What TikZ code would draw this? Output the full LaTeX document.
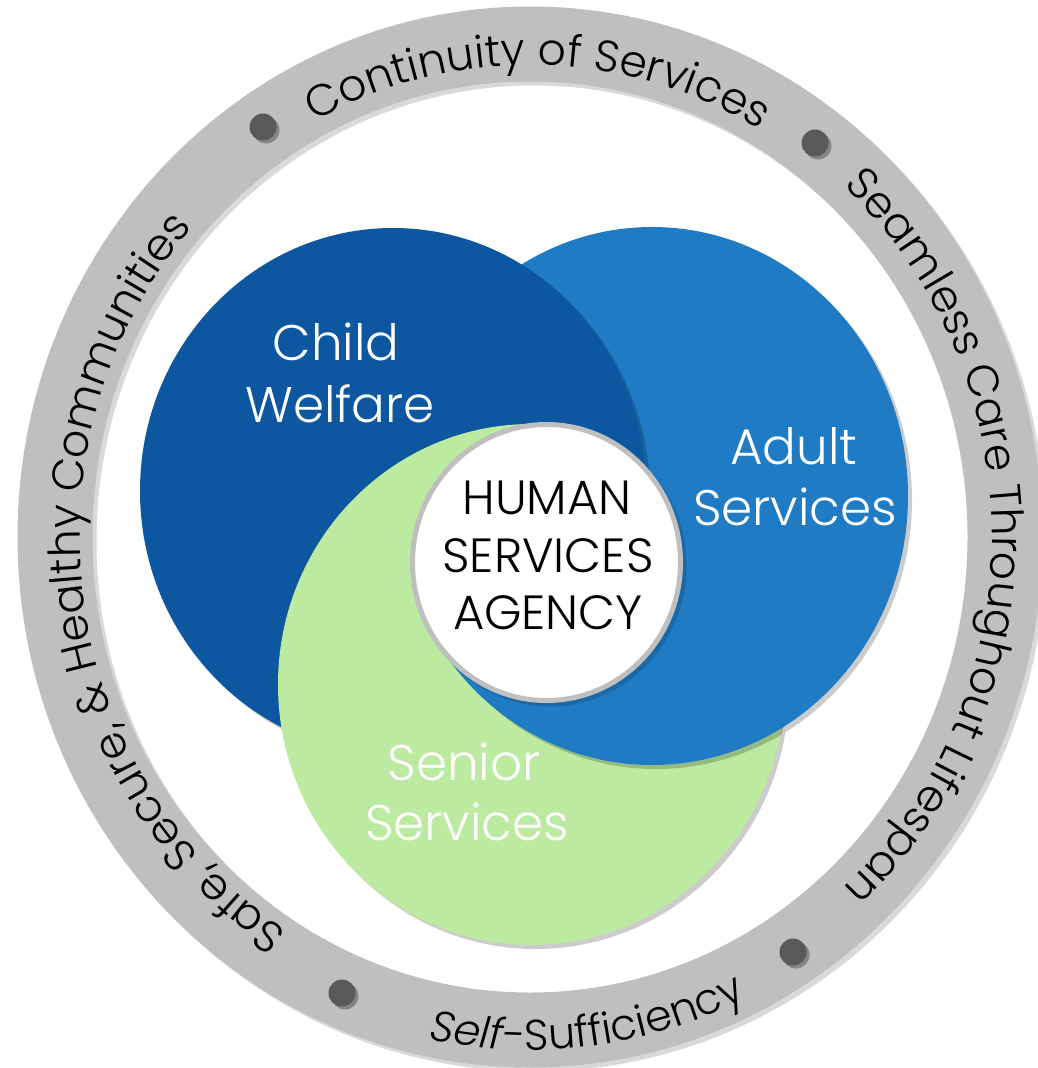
\documentclass[tikz,border=0pt]{standalone}
\usepackage{fontspec}
\setmainfont{Poppins}[UprightFont={* Light},ItalicFont={* Light Italic}]
\usetikzlibrary{decorations.text}
\definecolor{darkblue}{HTML}{0C57A0}
\definecolor{midblue}{HTML}{1F7BC4}
\definecolor{lightgreen}{HTML}{BCEAA0}
\definecolor{ringgray}{HTML}{BFBFBF}
\definecolor{dotgray}{HTML}{595959}
\newcommand{\ringfont}{\fontsize{44}{52}\selectfont}
\newcommand{\ringfontb}{\fontsize{43}{52}\selectfont}
\begin{document}
\begin{tikzpicture}[x=1pt,y=-1pt,
  shadowfill/.style={fill=black,fill opacity=0.2},
  circlelabel/.style={text=white,font=\fontsize{50}{60}\selectfont,anchor=base,inner sep=0pt},
  hsa/.style={text=black,font=\fontsize{48}{58}\selectfont,anchor=base,inner sep=0pt},
  ringtext/.style={decorate,decoration={text along path,text align=center,text={#1}}},
  bullet/.style={circle,fill=dotgray,minimum size=27pt,inner sep=0pt},
  bulletshadow/.style={circle,fill=black,fill opacity=0.3,minimum size=27pt,inner sep=0pt},
]
\useasboundingbox (0,0) rectangle (1038,1068);
% outer ring
\draw[line width=75pt,draw=black,draw opacity=0.15] (534,541) ellipse [x radius=475,y radius=493];
\draw[line width=75pt,draw=ringgray] (530,537) ellipse [x radius=475,y radius=493];
% bullets
\node[bulletshadow] (d1s) at (266,130) {};
\node[bulletshadow] (d2s) at (818,146) {};
\node[bulletshadow] (d3s) at (345,996) {};
\node[bulletshadow] (d4s) at (796,955) {};
\node[bullet] (d1) at (263,127) {};
\node[bullet] (d2) at (815,143) {};
\node[bullet] (d3) at (342,993) {};
\node[bullet] (d4) at (793,952) {};
% ring texts
\path[ringtext={|\ringfont|Continuity of Services},shift={(530,537)}]
  (-130:455 and 472) arc[start angle=-130,end angle=-48,x radius=455,y radius=472];
\path[ringtext={|\ringfont|Seamless Care Throughout Lifespan},shift={(530,537)}]
  (-55:462 and 478) arc[start angle=-55,end angle=55,x radius=462,y radius=478];
\path[ringtext={|\ringfontb\itshape|Self-|\ringfontb\upshape|Sufficiency},shift={(530,537)}]
  (112:493 and 513) arc[start angle=112,end angle=54,x radius=493,y radius=513];
\path[ringtext={|\ringfont|Safe, Secure, {\&} Healthy Communities},shift={(530,537)}]
  (114:450 and 468) arc[start angle=114,end angle=230,x radius=450,y radius=468];
% shadows of the three circles
\fill[shadowfill] (656,500) ellipse[x radius=256,y radius=269]
                  (397,495) ellipse[x radius=253,y radius=263]
                  (535.5,688.5) ellipse[x radius=253.5,y radius=260.5];
% adult
\fill[midblue] (652,496) ellipse[x radius=256,y radius=269];
\begin{scope}
  \clip (652,496) ellipse[x radius=256,y radius=269];
  \fill[shadowfill] (397,495) ellipse[x radius=253,y radius=263];
\end{scope}
% child
\fill[darkblue] (393,491) ellipse[x radius=253,y radius=263];
\begin{scope}
  \clip (393,491) ellipse[x radius=253,y radius=263];
  \fill[shadowfill] (535.5,688.5) ellipse[x radius=253.5,y radius=260.5];
\end{scope}
% senior
\fill[lightgreen] (531.5,684.5) ellipse[x radius=253.5,y radius=260.5];
% adult passes over senior in the lower right
\begin{scope}
  \clip (139,945) -- (945,140) -- (1038,140) -- (1038,1068) -- (139,1068) -- cycle;
  \clip (531.5,684.5) ellipse[x radius=255,y radius=262];
  \fill[shadowfill] (656,500) ellipse[x radius=256,y radius=269];
  \fill[midblue] (652,496) ellipse[x radius=256,y radius=269];
\end{scope}
% child stays on top near the top of the centre disc
\begin{scope}
  \clip (535,380) rectangle (720,520);
  \begin{scope}
    \clip (139,945) -- (945,140) -- (1038,140) -- (1038,1068) -- (139,1068) -- cycle;
    \clip (531.5,684.5) ellipse[x radius=255,y radius=262];
    \fill[shadowfill] (397,495) ellipse[x radius=253,y radius=263];
  \end{scope}
  \fill[darkblue] (393,491) ellipse[x radius=253,y radius=263];
\end{scope}
% centre
\fill[black,fill opacity=0.15] (550,566) ellipse[x radius=136.5,y radius=140.5];
\filldraw[fill=white,draw=ringgray,line width=5pt] (546.5,562.5) ellipse[x radius=134,y radius=138];
% circle labels
\node[circlelabel] (cw1) at (336,360) {Child};
\node[circlelabel] (cw2) at (340,422) {Welfare};
\node[circlelabel] (as1) at (794,464) {Adult};
\node[circlelabel] (as2) at (795,525) {Services};
\node[circlelabel] (ss1) at (464,780) {Senior};
\node[circlelabel] (ss2) at (467,840) {Services};
% centre text
\node[hsa] (h1) at (547,514) {HUMAN};
\node[hsa] (h2) at (548,572) {SERVICES};
\node[hsa] (h3) at (548,629) {AGENCY};
\end{tikzpicture}
\end{document}
